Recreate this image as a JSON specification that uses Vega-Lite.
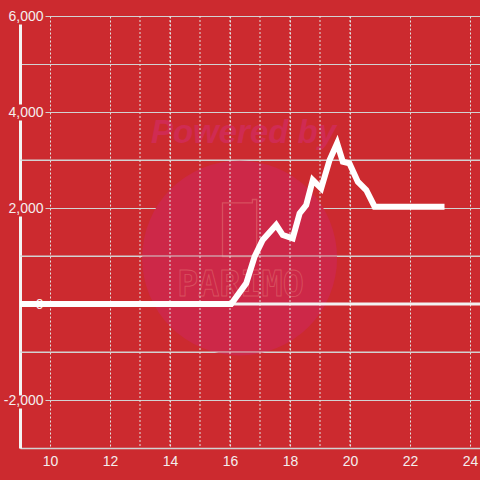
{
  "$schema": "https://vega.github.io/schema/vega-lite/v6.json",
  "autosize": "none",
  "padding": {"left": 20, "top": 16, "right": 0, "bottom": 32},
  "width": 460,
  "height": 432,
  "background": "#cc2a2f",
  "config": {
    "view": {"stroke": null},
    "font": "Liberation Sans"
  },
  "layer": [
    {
      "data": {"values": [{"k": "watermark"}]},
      "mark": {"type": "point", "shape": "circle", "filled": true, "size": 38000, "fill": "#cd2848", "strokeWidth": 0, "opacity": 1},
      "encoding": {
        "x": {"datum": 16.32, "type": "quantitative", "scale": {"domain": [9, 24.333], "nice": false, "zero": false}},
        "y": {"datum": 958, "type": "quantitative", "scale": {"domain": [-3000, 6000], "nice": false, "zero": false}}
      }
    },
    {
      "data": {"values": [{"k": "watermark"}]},
      "mark": {"type": "text", "text": "Powered by", "fontSize": 33, "fontWeight": "bold", "fontStyle": "italic", "fill": "#d02b52", "font": "Liberation Sans"},
      "encoding": {
        "x": {"datum": 16.45, "type": "quantitative"},
        "y": {"datum": 3560, "type": "quantitative"}
      }
    },
    {
      "data": {"values": [{"k": "watermark"}]},
      "mark": {"type": "point", "shape": "M-0.6,-0.88H0.45V-1H0.6V1H-0.6Z", "filled": false, "size": 3249, "stroke": "#d8505f", "strokeWidth": 1.3, "opacity": 1},
      "encoding": {
        "x": {"datum": 16.32, "type": "quantitative"},
        "y": {"datum": 1583, "type": "quantitative"}
      }
    },
    {
      "data": {"values": [{"k": "watermark"}]},
      "mark": {"type": "text", "text": "PARIMO", "fontSize": 35, "fontWeight": "bold", "fill": "transparent", "stroke": "#d8505f", "strokeWidth": 0.9, "font": "DejaVu Sans Mono"},
      "encoding": {
        "x": {"datum": 16.35, "type": "quantitative"},
        "y": {"datum": 396, "type": "quantitative"}
      }
    },
    {
      "data": {"values": [{"g": -1000}, {"g": 1000}, {"g": 3000}]},
      "mark": {"type": "rule", "color": "#d2d2d2", "strokeWidth": 1},
      "encoding": {
        "y": {
          "field": "g",
          "type": "quantitative",
          "axis": {
            "values": [-3000, -2000, -1000, 0, 1000, 2000, 3000, 4000, 5000, 6000],
            "labelExpr": "datum.value % 2000 === 0 ? replace(format(datum.value, ','), '\u2212', '-') : ''",
            "grid": true,
            "gridColor": "#d2d2d2",
            "gridWidth": 1,
            "gridDash": {"condition": {"test": "datum.value % 2000 === 0 && datum.value !== 0", "value": [0, 25, 600, 0]}, "value": []},
            "domainColor": "#f4f4f4",
            "domainWidth": 3,
            "domainDash": [40, 13, 179, 16, 80, 16, 80, 100],
            "ticks": false,
            "labelPadding": -23,
            "labelFontSize": 14,
            "labelColor": "#f4eeee",
            "labelFont": "Liberation Sans",
            "labelOverlap": false,
            "title": null
          }
        }
      }
    },
    {
      "data": {"values": [{"g": 13}, {"g": 14}, {"g": 15}, {"g": 16}, {"g": 17}, {"g": 18}, {"g": 19}, {"g": 20}]},
      "mark": {"type": "rule", "color": "#e2e2e2", "strokeWidth": 1, "strokeDash": [2, 2]},
      "encoding": {
        "x": {
          "field": "g",
          "type": "quantitative",
          "axis": {
            "values": [10, 11, 12, 13, 14, 15, 16, 17, 18, 19, 20, 21, 22, 23, 24],
            "grid": true,
            "gridDash": [2, 2],
            "gridColor": "#e2e2e2",
            "gridWidth": 1,
            "domainColor": "#d2d2d2",
            "domainWidth": 1.5,
            "ticks": false,
            "labelPadding": 6,
            "labelFontSize": 14,
            "labelColor": "#f4eeee",
            "labelFlush": false,
            "labelOverlap": false,
            "labelFont": "Liberation Sans",
            "title": null
          }
        }
      }
    },
    {
      "data": {"values": [{"k": "zero"}]},
      "mark": {"type": "rule", "color": "#f2f2f2", "strokeWidth": 3},
      "encoding": {
        "y": {"datum": 0, "type": "quantitative"}
      }
    },
    {
      "data": {
        "values": [
          {"hour": 9, "value": 0},
          {"hour": 16.04, "value": 0},
          {"hour": 16.54, "value": 431},
          {"hour": 16.82, "value": 985},
          {"hour": 17.09, "value": 1333},
          {"hour": 17.54, "value": 1646},
          {"hour": 17.76, "value": 1437},
          {"hour": 18.09, "value": 1368},
          {"hour": 18.32, "value": 1889},
          {"hour": 18.54, "value": 2062},
          {"hour": 18.76, "value": 2583},
          {"hour": 19.04, "value": 2410},
          {"hour": 19.32, "value": 3000},
          {"hour": 19.57, "value": 3348},
          {"hour": 19.76, "value": 2965},
          {"hour": 19.98, "value": 2931},
          {"hour": 20.26, "value": 2548},
          {"hour": 20.54, "value": 2375},
          {"hour": 20.82, "value": 2027},
          {"hour": 23.15, "value": 2027}
        ]
      },
      "mark": {"type": "line", "color": "#ffffff", "strokeWidth": 6, "strokeJoin": "miter", "strokeCap": "butt"},
      "encoding": {
        "x": {
          "field": "hour",
          "type": "quantitative",
          "scale": {"domain": [9, 24.333], "nice": false, "zero": false},
          "axis": {
            "values": [10, 11, 12, 13, 14, 15, 16, 17, 18, 19, 20, 21, 22, 23, 24],
            "grid": true,
            "gridDash": [2, 2],
            "gridColor": "#e2e2e2",
            "gridWidth": 1,
            "domainColor": "#d2d2d2",
            "domainWidth": 1.5,
            "ticks": false,
            "labelPadding": 6,
            "labelFontSize": 14,
            "labelColor": "#f4eeee",
            "labelFlush": false,
            "labelOverlap": false,
            "labelFont": "Liberation Sans",
            "title": null
          }
        },
        "y": {
          "field": "value",
          "type": "quantitative",
          "scale": {"domain": [-3000, 6000], "nice": false, "zero": false},
          "axis": {
            "values": [-3000, -2000, -1000, 0, 1000, 2000, 3000, 4000, 5000, 6000],
            "labelExpr": "datum.value % 2000 === 0 ? replace(format(datum.value, ','), '\u2212', '-') : ''",
            "grid": true,
            "gridColor": "#d2d2d2",
            "gridWidth": 1,
            "gridDash": {"condition": {"test": "datum.value % 2000 === 0 && datum.value !== 0", "value": [0, 25, 600, 0]}, "value": []},
            "domainColor": "#f4f4f4",
            "domainWidth": 3,
            "domainDash": [40, 13, 179, 16, 80, 16, 80, 100],
            "ticks": false,
            "labelPadding": -23,
            "labelFontSize": 14,
            "labelColor": "#f4eeee",
            "labelFont": "Liberation Sans",
            "labelOverlap": false,
            "title": null
          }
        }
      }
    }
  ]
}
